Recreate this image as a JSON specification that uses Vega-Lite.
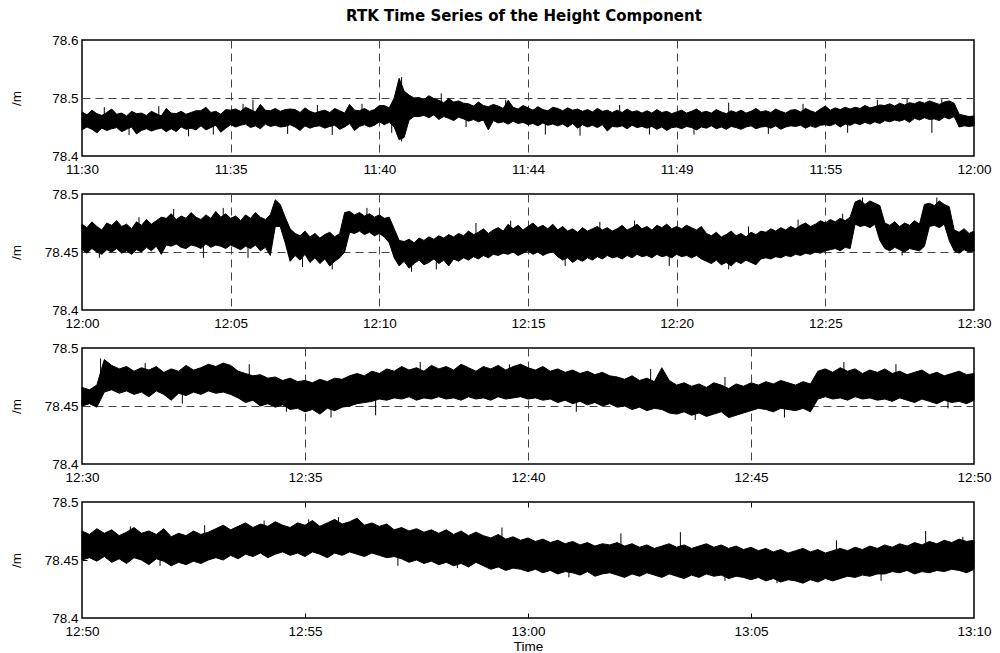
{
"$schema": "https://vega.github.io/schema/vega-lite/v6.json",
"background": "white",
"padding": {"left": 8, "top": 9, "right": 5, "bottom": 0},
"title": {"text": "RTK Time Series of the Height Component", "font": "DejaVu Sans", "fontSize": 15, "fontWeight": "bold", "color": "black", "anchor": "middle", "offset": 8, "dx": 24},
"spacing": 38,
"bounds": "flush",
"config": {
  "font": "Liberation Sans",
  "view": {"stroke": "black", "strokeWidth": 1.5},
  "axis": {"labelFont": "Liberation Sans", "labelFontSize": 13.5, "labelColor": "black", "ticks": false, "domain": false, "grid": true, "gridColor": "#444", "gridWidth": 1, "gridDash": [8, 5], "labelFlush": false, "labelOverlap": false, "titleFont": "Liberation Sans", "titleFontSize": 13.5, "titleFontWeight": "normal", "titleColor": "black"},
  "axisX": {"labelPadding": 6},
  "axisY": {"labelPadding": 4}
},
"datasets": {
"p1": [
{"t":0,"l":78.445,"h":78.476},{"t":10,"l":78.45,"h":78.471},{"t":20,"l":78.446,"h":78.479},{"t":30,"l":78.44,"h":78.473},{"t":40,"l":78.448,"h":78.47},{"t":50,"l":78.444,"h":78.475},
{"t":60,"l":78.447,"h":78.481},{"t":70,"l":78.449,"h":78.472},{"t":80,"l":78.442,"h":78.474},{"t":90,"l":78.446,"h":78.469},{"t":100,"l":78.45,"h":78.477},{"t":110,"l":78.438,"h":78.473},
{"t":120,"l":78.444,"h":78.474},{"t":130,"l":78.447,"h":78.47},{"t":140,"l":78.443,"h":78.477},{"t":150,"l":78.446,"h":78.473},{"t":160,"l":78.448,"h":78.469},{"t":170,"l":78.442,"h":78.482},
{"t":180,"l":78.447,"h":78.474},{"t":190,"l":78.442,"h":78.473},{"t":200,"l":78.45,"h":78.477},{"t":210,"l":78.446,"h":78.472},{"t":220,"l":78.448,"h":78.475},{"t":230,"l":78.445,"h":78.478},
{"t":240,"l":78.452,"h":78.478},{"t":250,"l":78.445,"h":78.484},{"t":260,"l":78.449,"h":78.475},{"t":270,"l":78.453,"h":78.477},{"t":280,"l":78.441,"h":78.472},{"t":290,"l":78.448,"h":78.48},
{"t":300,"l":78.454,"h":78.479},{"t":310,"l":78.45,"h":78.481},{"t":320,"l":78.453,"h":78.477},{"t":330,"l":78.455,"h":78.484},{"t":340,"l":78.449,"h":78.48},{"t":350,"l":78.452,"h":78.476},
{"t":360,"l":78.447,"h":78.489},{"t":370,"l":78.455,"h":78.479},{"t":380,"l":78.451,"h":78.478},{"t":390,"l":78.453,"h":78.482},{"t":400,"l":78.45,"h":78.477},{"t":410,"l":78.451,"h":78.48},
{"t":420,"l":78.454,"h":78.481},{"t":430,"l":78.45,"h":78.48},{"t":440,"l":78.444,"h":78.475},{"t":450,"l":78.452,"h":78.483},{"t":460,"l":78.448,"h":78.477},{"t":470,"l":78.451,"h":78.474},
{"t":480,"l":78.452,"h":78.477},{"t":490,"l":78.448,"h":78.479},{"t":500,"l":78.451,"h":78.475},{"t":510,"l":78.453,"h":78.482},{"t":520,"l":78.446,"h":78.478},{"t":530,"l":78.45,"h":78.474},
{"t":540,"l":78.456,"h":78.489},{"t":550,"l":78.444,"h":78.479},{"t":560,"l":78.451,"h":78.478},{"t":570,"l":78.454,"h":78.482},{"t":580,"l":78.45,"h":78.477},{"t":590,"l":78.453,"h":78.48},
{"t":600,"l":78.459,"h":78.487},{"t":610,"l":78.454,"h":78.487},{"t":620,"l":78.458,"h":78.483},{"t":630,"l":78.45,"h":78.5},{"t":640,"l":78.428,"h":78.534},{"t":650,"l":78.432,"h":78.512},
{"t":660,"l":78.462,"h":78.505},{"t":670,"l":78.468,"h":78.5},{"t":680,"l":78.468,"h":78.501},{"t":690,"l":78.47,"h":78.497},{"t":700,"l":78.466,"h":78.504},{"t":710,"l":78.471,"h":78.499},
{"t":720,"l":78.463,"h":78.496},{"t":730,"l":78.468,"h":78.492},{"t":740,"l":78.465,"h":78.499},{"t":750,"l":78.461,"h":78.493},{"t":760,"l":78.467,"h":78.495},{"t":770,"l":78.464,"h":78.491},
{"t":780,"l":78.46,"h":78.49},{"t":790,"l":78.463,"h":78.486},{"t":800,"l":78.459,"h":78.493},{"t":810,"l":78.462,"h":78.487},{"t":820,"l":78.445,"h":78.485},{"t":830,"l":78.461,"h":78.489},
{"t":840,"l":78.457,"h":78.486},{"t":850,"l":78.459,"h":78.482},{"t":860,"l":78.455,"h":78.496},{"t":870,"l":78.46,"h":78.484},{"t":880,"l":78.456,"h":78.481},{"t":890,"l":78.458,"h":78.487},
{"t":900,"l":78.454,"h":78.483},{"t":910,"l":78.456,"h":78.479},{"t":920,"l":78.452,"h":78.485},{"t":930,"l":78.457,"h":78.48},{"t":940,"l":78.453,"h":78.478},{"t":950,"l":78.455,"h":78.484},
{"t":960,"l":78.452,"h":78.482},{"t":970,"l":78.455,"h":78.478},{"t":980,"l":78.45,"h":78.483},{"t":990,"l":78.456,"h":78.479},{"t":1000,"l":78.448,"h":78.481},{"t":1010,"l":78.454,"h":78.477},
{"t":1020,"l":78.45,"h":78.48},{"t":1030,"l":78.453,"h":78.476},{"t":1040,"l":78.449,"h":78.482},{"t":1050,"l":78.454,"h":78.477},{"t":1060,"l":78.443,"h":78.479},{"t":1070,"l":78.451,"h":78.475},
{"t":1080,"l":78.45,"h":78.479},{"t":1090,"l":78.452,"h":78.475},{"t":1100,"l":78.447,"h":78.481},{"t":1110,"l":78.453,"h":78.476},{"t":1120,"l":78.449,"h":78.478},{"t":1130,"l":78.451,"h":78.474},
{"t":1140,"l":78.448,"h":78.478},{"t":1150,"l":78.451,"h":78.474},{"t":1160,"l":78.446,"h":78.48},{"t":1170,"l":78.45,"h":78.475},{"t":1180,"l":78.444,"h":78.477},{"t":1190,"l":78.449,"h":78.473},
{"t":1200,"l":78.45,"h":78.476},{"t":1210,"l":78.447,"h":78.479},{"t":1220,"l":78.451,"h":78.474},{"t":1230,"l":78.449,"h":78.477},{"t":1240,"l":78.445,"h":78.481},{"t":1250,"l":78.45,"h":78.475},
{"t":1260,"l":78.448,"h":78.477},{"t":1270,"l":78.452,"h":78.474},{"t":1280,"l":78.447,"h":78.48},{"t":1290,"l":78.45,"h":78.476},{"t":1300,"l":78.446,"h":78.473},{"t":1310,"l":78.451,"h":78.478},
{"t":1320,"l":78.449,"h":78.475},{"t":1330,"l":78.446,"h":78.479},{"t":1340,"l":78.45,"h":78.474},{"t":1350,"l":78.452,"h":78.477},{"t":1360,"l":78.447,"h":78.482},{"t":1370,"l":78.45,"h":78.476},
{"t":1380,"l":78.451,"h":78.478},{"t":1390,"l":78.448,"h":78.475},{"t":1400,"l":78.452,"h":78.481},{"t":1410,"l":78.446,"h":78.477},{"t":1420,"l":78.45,"h":78.474},{"t":1430,"l":78.452,"h":78.479},
{"t":1440,"l":78.451,"h":78.48},{"t":1450,"l":78.453,"h":78.476},{"t":1460,"l":78.448,"h":78.482},{"t":1470,"l":78.452,"h":78.478},{"t":1480,"l":78.449,"h":78.475},{"t":1490,"l":78.453,"h":78.481},
{"t":1500,"l":78.454,"h":78.486},{"t":1510,"l":78.452,"h":78.479},{"t":1520,"l":78.456,"h":78.483},{"t":1530,"l":78.45,"h":78.48},{"t":1540,"l":78.455,"h":78.484},{"t":1550,"l":78.453,"h":78.481},
{"t":1560,"l":78.457,"h":78.484},{"t":1570,"l":78.454,"h":78.482},{"t":1580,"l":78.458,"h":78.487},{"t":1590,"l":78.455,"h":78.483},{"t":1600,"l":78.459,"h":78.485},{"t":1610,"l":78.456,"h":78.488},
{"t":1620,"l":78.461,"h":78.487},{"t":1630,"l":78.459,"h":78.49},{"t":1640,"l":78.462,"h":78.486},{"t":1650,"l":78.46,"h":78.491},{"t":1660,"l":78.463,"h":78.488},{"t":1670,"l":78.458,"h":78.492},
{"t":1680,"l":78.465,"h":78.49},{"t":1690,"l":78.462,"h":78.494},{"t":1700,"l":78.466,"h":78.491},{"t":1710,"l":78.463,"h":78.495},{"t":1720,"l":78.464,"h":78.492},{"t":1730,"l":78.461,"h":78.489},
{"t":1740,"l":78.467,"h":78.493},{"t":1750,"l":78.464,"h":78.495},{"t":1760,"l":78.468,"h":78.491},{"t":1770,"l":78.45,"h":78.472},{"t":1780,"l":78.452,"h":78.47},{"t":1790,"l":78.451,"h":78.468},
{"t":1800,"l":78.452,"h":78.469}
],
"s1": [
{"t":45,"l":78.455,"h":78.484},{"t":95,"l":78.436,"h":78.46},{"t":155,"l":78.455,"h":78.486},{"t":215,"l":78.434,"h":78.46},{"t":265,"l":78.437,"h":78.46},{"t":325,"l":78.46,"h":78.49},
{"t":345,"l":78.46,"h":78.497},{"t":415,"l":78.438,"h":78.46},{"t":475,"l":78.46,"h":78.488},{"t":505,"l":78.436,"h":78.46},{"t":565,"l":78.46,"h":78.49},{"t":625,"l":78.44,"h":78.49},
{"t":645,"l":78.425,"h":78.536},{"t":725,"l":78.47,"h":78.508},{"t":775,"l":78.45,"h":78.47},{"t":855,"l":78.47,"h":78.497},{"t":935,"l":78.437,"h":78.46},{"t":1005,"l":78.435,"h":78.46},
{"t":1085,"l":78.46,"h":78.488},{"t":1145,"l":78.437,"h":78.46},{"t":1235,"l":78.437,"h":78.46},{"t":1305,"l":78.46,"h":78.492},{"t":1385,"l":78.438,"h":78.46},{"t":1455,"l":78.46,"h":78.49},
{"t":1545,"l":78.44,"h":78.465},{"t":1605,"l":78.47,"h":78.497},{"t":1665,"l":78.465,"h":78.499},{"t":1715,"l":78.44,"h":78.47},{"t":1735,"l":78.47,"h":78.498}
],
"p2": [
{"t":0,"l":78.452,"h":78.474},{"t":10,"l":78.449,"h":78.471},{"t":20,"l":78.453,"h":78.476},{"t":30,"l":78.45,"h":78.472},{"t":40,"l":78.448,"h":78.469},{"t":50,"l":78.452,"h":78.475},
{"t":60,"l":78.45,"h":78.473},{"t":70,"l":78.453,"h":78.477},{"t":80,"l":78.449,"h":78.472},{"t":90,"l":78.451,"h":78.474},{"t":100,"l":78.448,"h":78.47},{"t":110,"l":78.452,"h":78.476},
{"t":120,"l":78.45,"h":78.473},{"t":130,"l":78.454,"h":78.478},{"t":140,"l":78.451,"h":78.474},{"t":150,"l":78.455,"h":78.477},{"t":160,"l":78.448,"h":78.48},{"t":170,"l":78.456,"h":78.479},
{"t":180,"l":78.455,"h":78.483},{"t":190,"l":78.457,"h":78.478},{"t":200,"l":78.454,"h":78.481},{"t":210,"l":78.453,"h":78.479},{"t":220,"l":78.456,"h":78.484},{"t":230,"l":78.455,"h":78.48},
{"t":240,"l":78.453,"h":78.478},{"t":250,"l":78.457,"h":78.482},{"t":260,"l":78.454,"h":78.479},{"t":270,"l":78.456,"h":78.485},{"t":280,"l":78.455,"h":78.48},{"t":290,"l":78.453,"h":78.483},
{"t":300,"l":78.456,"h":78.479},{"t":310,"l":78.454,"h":78.481},{"t":320,"l":78.452,"h":78.477},{"t":330,"l":78.455,"h":78.482},{"t":340,"l":78.453,"h":78.479},{"t":350,"l":78.456,"h":78.484},
{"t":360,"l":78.451,"h":78.48},{"t":370,"l":78.454,"h":78.478},{"t":380,"l":78.447,"h":78.482},{"t":390,"l":78.472,"h":78.495},{"t":400,"l":78.472,"h":78.491},{"t":410,"l":78.458,"h":78.48},
{"t":420,"l":78.442,"h":78.47},{"t":430,"l":78.447,"h":78.466},{"t":440,"l":78.443,"h":78.464},{"t":450,"l":78.448,"h":78.468},{"t":460,"l":78.441,"h":78.463},{"t":470,"l":78.445,"h":78.466},
{"t":480,"l":78.44,"h":78.462},{"t":490,"l":78.444,"h":78.465},{"t":500,"l":78.438,"h":78.467},{"t":510,"l":78.442,"h":78.463},{"t":520,"l":78.445,"h":78.466},{"t":530,"l":78.45,"h":78.484},
{"t":540,"l":78.467,"h":78.485},{"t":550,"l":78.466,"h":78.482},{"t":560,"l":78.468,"h":78.484},{"t":570,"l":78.465,"h":78.481},{"t":580,"l":78.467,"h":78.483},{"t":590,"l":78.464,"h":78.48},
{"t":600,"l":78.466,"h":78.482},{"t":610,"l":78.463,"h":78.479},{"t":620,"l":78.458,"h":78.48},{"t":630,"l":78.445,"h":78.47},{"t":640,"l":78.438,"h":78.46},{"t":650,"l":78.442,"h":78.459},
{"t":660,"l":78.436,"h":78.461},{"t":670,"l":78.44,"h":78.458},{"t":680,"l":78.443,"h":78.462},{"t":690,"l":78.439,"h":78.46},{"t":700,"l":78.441,"h":78.463},{"t":710,"l":78.444,"h":78.461},
{"t":720,"l":78.44,"h":78.464},{"t":730,"l":78.443,"h":78.462},{"t":740,"l":78.438,"h":78.465},{"t":750,"l":78.444,"h":78.463},{"t":760,"l":78.442,"h":78.466},{"t":770,"l":78.445,"h":78.464},
{"t":780,"l":78.443,"h":78.468},{"t":790,"l":78.446,"h":78.465},{"t":800,"l":78.444,"h":78.467},{"t":810,"l":78.447,"h":78.47},{"t":820,"l":78.445,"h":78.466},{"t":830,"l":78.448,"h":78.469},
{"t":840,"l":78.447,"h":78.471},{"t":850,"l":78.449,"h":78.468},{"t":860,"l":78.448,"h":78.474},{"t":870,"l":78.45,"h":78.47},{"t":880,"l":78.447,"h":78.473},{"t":890,"l":78.449,"h":78.469},
{"t":900,"l":78.451,"h":78.472},{"t":910,"l":78.448,"h":78.475},{"t":920,"l":78.45,"h":78.471},{"t":930,"l":78.447,"h":78.473},{"t":940,"l":78.449,"h":78.47},{"t":950,"l":78.45,"h":78.474},
{"t":960,"l":78.446,"h":78.469},{"t":970,"l":78.443,"h":78.472},{"t":980,"l":78.445,"h":78.468},{"t":990,"l":78.441,"h":78.47},{"t":1000,"l":78.444,"h":78.467},{"t":1010,"l":78.442,"h":78.471},
{"t":1020,"l":78.445,"h":78.468},{"t":1030,"l":78.443,"h":78.47},{"t":1040,"l":78.446,"h":78.472},{"t":1050,"l":78.444,"h":78.469},{"t":1060,"l":78.447,"h":78.471},{"t":1070,"l":78.445,"h":78.468},
{"t":1080,"l":78.446,"h":78.47},{"t":1090,"l":78.444,"h":78.473},{"t":1100,"l":78.447,"h":78.469},{"t":1110,"l":78.445,"h":78.471},{"t":1120,"l":78.448,"h":78.474},{"t":1130,"l":78.446,"h":78.47},
{"t":1140,"l":78.447,"h":78.472},{"t":1150,"l":78.445,"h":78.469},{"t":1160,"l":78.448,"h":78.473},{"t":1170,"l":78.446,"h":78.471},{"t":1180,"l":78.447,"h":78.474},{"t":1190,"l":78.445,"h":78.47},
{"t":1200,"l":78.448,"h":78.472},{"t":1210,"l":78.446,"h":78.47},{"t":1220,"l":78.447,"h":78.473},{"t":1230,"l":78.445,"h":78.471},{"t":1240,"l":78.447,"h":78.469},{"t":1250,"l":78.444,"h":78.472},
{"t":1260,"l":78.442,"h":78.466},{"t":1270,"l":78.44,"h":78.464},{"t":1280,"l":78.443,"h":78.467},{"t":1290,"l":78.439,"h":78.463},{"t":1300,"l":78.441,"h":78.465},{"t":1310,"l":78.438,"h":78.468},
{"t":1320,"l":78.442,"h":78.464},{"t":1330,"l":78.44,"h":78.466},{"t":1340,"l":78.443,"h":78.463},{"t":1350,"l":78.441,"h":78.467},{"t":1360,"l":78.439,"h":78.465},{"t":1370,"l":78.444,"h":78.468},
{"t":1380,"l":78.445,"h":78.467},{"t":1390,"l":78.444,"h":78.47},{"t":1400,"l":78.446,"h":78.468},{"t":1410,"l":78.445,"h":78.471},{"t":1420,"l":78.447,"h":78.469},{"t":1430,"l":78.446,"h":78.472},
{"t":1440,"l":78.448,"h":78.47},{"t":1450,"l":78.447,"h":78.473},{"t":1460,"l":78.449,"h":78.475},{"t":1470,"l":78.448,"h":78.472},{"t":1480,"l":78.45,"h":78.474},{"t":1490,"l":78.449,"h":78.477},
{"t":1500,"l":78.451,"h":78.475},{"t":1510,"l":78.452,"h":78.478},{"t":1520,"l":78.453,"h":78.476},{"t":1530,"l":78.451,"h":78.479},{"t":1540,"l":78.454,"h":78.477},{"t":1550,"l":78.453,"h":78.48},
{"t":1560,"l":78.474,"h":78.493},{"t":1570,"l":78.472,"h":78.495},{"t":1580,"l":78.473,"h":78.491},{"t":1590,"l":78.471,"h":78.494},{"t":1600,"l":78.474,"h":78.492},{"t":1610,"l":78.46,"h":78.49},
{"t":1620,"l":78.453,"h":78.475},{"t":1630,"l":78.451,"h":78.473},{"t":1640,"l":78.454,"h":78.476},{"t":1650,"l":78.452,"h":78.472},{"t":1660,"l":78.45,"h":78.475},{"t":1670,"l":78.453,"h":78.473},
{"t":1680,"l":78.452,"h":78.477},{"t":1690,"l":78.451,"h":78.474},{"t":1700,"l":78.455,"h":78.491},{"t":1710,"l":78.472,"h":78.492},{"t":1720,"l":78.473,"h":78.49},{"t":1730,"l":78.471,"h":78.494},
{"t":1740,"l":78.474,"h":78.491},{"t":1750,"l":78.46,"h":78.489},{"t":1760,"l":78.451,"h":78.469},{"t":1770,"l":78.449,"h":78.467},{"t":1780,"l":78.452,"h":78.47},{"t":1790,"l":78.45,"h":78.466},
{"t":1800,"l":78.451,"h":78.468}
],
"s2": [
{"t":35,"l":78.445,"h":78.465},{"t":115,"l":78.46,"h":78.48},{"t":185,"l":78.46,"h":78.487},{"t":245,"l":78.445,"h":78.465},{"t":285,"l":78.46,"h":78.488},{"t":335,"l":78.445,"h":78.465},
{"t":445,"l":78.437,"h":78.455},{"t":505,"l":78.435,"h":78.455},{"t":575,"l":78.47,"h":78.488},{"t":665,"l":78.433,"h":78.455},{"t":715,"l":78.435,"h":78.455},{"t":795,"l":78.455,"h":78.475},
{"t":865,"l":78.455,"h":78.477},{"t":975,"l":78.438,"h":78.455},{"t":1045,"l":78.455,"h":78.476},{"t":1115,"l":78.455,"h":78.477},{"t":1185,"l":78.438,"h":78.455},{"t":1305,"l":78.435,"h":78.455},
{"t":1345,"l":78.455,"h":78.472},{"t":1445,"l":78.46,"h":78.478},{"t":1535,"l":78.46,"h":78.483},{"t":1575,"l":78.48,"h":78.497},{"t":1655,"l":78.447,"h":78.465},{"t":1725,"l":78.48,"h":78.497}
],
"p3": [
{"t":0,"l":78.45,"h":78.466},{"t":10,"l":78.452,"h":78.464},{"t":20,"l":78.449,"h":78.468},{"t":30,"l":78.462,"h":78.49},{"t":40,"l":78.464,"h":78.485},{"t":50,"l":78.461,"h":78.482},
{"t":60,"l":78.463,"h":78.484},{"t":70,"l":78.46,"h":78.48},{"t":80,"l":78.462,"h":78.483},{"t":90,"l":78.458,"h":78.481},{"t":100,"l":78.463,"h":78.484},{"t":110,"l":78.46,"h":78.479},
{"t":120,"l":78.455,"h":78.482},{"t":130,"l":78.461,"h":78.48},{"t":140,"l":78.459,"h":78.485},{"t":150,"l":78.462,"h":78.481},{"t":160,"l":78.46,"h":78.483},{"t":170,"l":78.463,"h":78.486},
{"t":180,"l":78.461,"h":78.484},{"t":190,"l":78.462,"h":78.487},{"t":200,"l":78.46,"h":78.485},{"t":210,"l":78.457,"h":78.48},{"t":220,"l":78.453,"h":78.478},{"t":230,"l":78.455,"h":78.476},
{"t":240,"l":78.45,"h":78.477},{"t":250,"l":78.452,"h":78.474},{"t":260,"l":78.449,"h":78.475},{"t":270,"l":78.451,"h":78.472},{"t":280,"l":78.447,"h":78.474},{"t":290,"l":78.448,"h":78.471},
{"t":300,"l":78.445,"h":78.472},{"t":310,"l":78.447,"h":78.47},{"t":320,"l":78.443,"h":78.473},{"t":330,"l":78.448,"h":78.471},{"t":340,"l":78.446,"h":78.474},{"t":350,"l":78.449,"h":78.473},
{"t":360,"l":78.45,"h":78.476},{"t":370,"l":78.452,"h":78.478},{"t":380,"l":78.453,"h":78.476},{"t":390,"l":78.454,"h":78.48},{"t":400,"l":78.456,"h":78.478},{"t":410,"l":78.455,"h":78.482},
{"t":420,"l":78.457,"h":78.48},{"t":430,"l":78.456,"h":78.484},{"t":440,"l":78.458,"h":78.481},{"t":450,"l":78.455,"h":78.483},{"t":460,"l":78.457,"h":78.48},{"t":470,"l":78.456,"h":78.485},
{"t":480,"l":78.458,"h":78.482},{"t":490,"l":78.456,"h":78.484},{"t":500,"l":78.457,"h":78.481},{"t":510,"l":78.455,"h":78.486},{"t":520,"l":78.458,"h":78.483},{"t":530,"l":78.456,"h":78.48},
{"t":540,"l":78.457,"h":78.484},{"t":550,"l":78.455,"h":78.482},{"t":560,"l":78.458,"h":78.485},{"t":570,"l":78.456,"h":78.481},{"t":580,"l":78.457,"h":78.484},{"t":590,"l":78.458,"h":78.486},
{"t":600,"l":78.456,"h":78.483},{"t":610,"l":78.457,"h":78.481},{"t":620,"l":78.455,"h":78.484},{"t":630,"l":78.456,"h":78.48},{"t":640,"l":78.453,"h":78.482},{"t":650,"l":78.455,"h":78.479},
{"t":660,"l":78.452,"h":78.481},{"t":670,"l":78.454,"h":78.478},{"t":680,"l":78.451,"h":78.48},{"t":690,"l":78.453,"h":78.477},{"t":700,"l":78.45,"h":78.479},{"t":710,"l":78.452,"h":78.476},
{"t":720,"l":78.449,"h":78.475},{"t":730,"l":78.45,"h":78.473},{"t":740,"l":78.447,"h":78.476},{"t":750,"l":78.449,"h":78.472},{"t":760,"l":78.446,"h":78.474},{"t":770,"l":78.448,"h":78.471},
{"t":780,"l":78.447,"h":78.483},{"t":790,"l":78.444,"h":78.472},{"t":800,"l":78.443,"h":78.468},{"t":810,"l":78.445,"h":78.47},{"t":820,"l":78.442,"h":78.467},{"t":830,"l":78.444,"h":78.469},
{"t":840,"l":78.441,"h":78.466},{"t":850,"l":78.443,"h":78.47},{"t":860,"l":78.445,"h":78.468},{"t":870,"l":78.44,"h":78.465},{"t":880,"l":78.442,"h":78.469},{"t":890,"l":78.444,"h":78.467},
{"t":900,"l":78.446,"h":78.47},{"t":910,"l":78.448,"h":78.468},{"t":920,"l":78.447,"h":78.471},{"t":930,"l":78.445,"h":78.469},{"t":940,"l":78.448,"h":78.472},{"t":950,"l":78.447,"h":78.47},
{"t":960,"l":78.446,"h":78.468},{"t":970,"l":78.448,"h":78.471},{"t":980,"l":78.445,"h":78.469},{"t":990,"l":78.456,"h":78.48},{"t":1000,"l":78.458,"h":78.482},{"t":1010,"l":78.456,"h":78.479},
{"t":1020,"l":78.457,"h":78.483},{"t":1030,"l":78.455,"h":78.48},{"t":1040,"l":78.458,"h":78.482},{"t":1050,"l":78.456,"h":78.478},{"t":1060,"l":78.457,"h":78.481},{"t":1070,"l":78.455,"h":78.479},
{"t":1080,"l":78.456,"h":78.482},{"t":1090,"l":78.454,"h":78.478},{"t":1100,"l":78.457,"h":78.48},{"t":1110,"l":78.455,"h":78.477},{"t":1120,"l":78.453,"h":78.479},{"t":1130,"l":78.456,"h":78.481},
{"t":1140,"l":78.454,"h":78.477},{"t":1150,"l":78.452,"h":78.479},{"t":1160,"l":78.455,"h":78.476},{"t":1170,"l":78.453,"h":78.478},{"t":1180,"l":78.454,"h":78.48},{"t":1190,"l":78.452,"h":78.477},
{"t":1200,"l":78.455,"h":78.478}
],
"s3": [
{"t":25,"l":78.46,"h":78.491},{"t":85,"l":78.465,"h":78.487},{"t":135,"l":78.452,"h":78.47},{"t":225,"l":78.46,"h":78.486},{"t":275,"l":78.445,"h":78.46},{"t":335,"l":78.44,"h":78.455},
{"t":395,"l":78.442,"h":78.46},{"t":455,"l":78.465,"h":78.488},{"t":575,"l":78.465,"h":78.486},{"t":665,"l":78.445,"h":78.46},{"t":765,"l":78.465,"h":78.482},{"t":825,"l":78.438,"h":78.455},
{"t":865,"l":78.455,"h":78.475},{"t":945,"l":78.44,"h":78.455},{"t":1025,"l":78.465,"h":78.488},{"t":1095,"l":78.465,"h":78.486},{"t":1165,"l":78.448,"h":78.46}
],
"p4": [
{"t":0,"l":78.45,"h":78.475},{"t":10,"l":78.452,"h":78.472},{"t":20,"l":78.449,"h":78.477},{"t":30,"l":78.453,"h":78.473},{"t":40,"l":78.448,"h":78.476},{"t":50,"l":78.451,"h":78.471},
{"t":60,"l":78.447,"h":78.474},{"t":70,"l":78.452,"h":78.478},{"t":80,"l":78.45,"h":78.473},{"t":90,"l":78.446,"h":78.475},{"t":100,"l":78.451,"h":78.472},{"t":110,"l":78.449,"h":78.477},
{"t":120,"l":78.445,"h":78.47},{"t":130,"l":78.448,"h":78.473},{"t":140,"l":78.446,"h":78.471},{"t":150,"l":78.449,"h":78.475},{"t":160,"l":78.447,"h":78.472},{"t":170,"l":78.45,"h":78.474},
{"t":180,"l":78.452,"h":78.477},{"t":190,"l":78.45,"h":78.48},{"t":200,"l":78.454,"h":78.476},{"t":210,"l":78.451,"h":78.479},{"t":220,"l":78.455,"h":78.482},{"t":230,"l":78.453,"h":78.478},
{"t":240,"l":78.456,"h":78.481},{"t":250,"l":78.452,"h":78.479},{"t":260,"l":78.455,"h":78.483},{"t":270,"l":78.457,"h":78.48},{"t":280,"l":78.454,"h":78.478},{"t":290,"l":78.456,"h":78.482},
{"t":300,"l":78.453,"h":78.48},{"t":310,"l":78.457,"h":78.484},{"t":320,"l":78.455,"h":78.479},{"t":330,"l":78.452,"h":78.482},{"t":340,"l":78.456,"h":78.485},{"t":350,"l":78.454,"h":78.481},
{"t":360,"l":78.457,"h":78.483},{"t":370,"l":78.455,"h":78.486},{"t":380,"l":78.453,"h":78.48},{"t":390,"l":78.456,"h":78.482},{"t":400,"l":78.454,"h":78.479},{"t":410,"l":78.452,"h":78.481},
{"t":420,"l":78.453,"h":78.476},{"t":430,"l":78.451,"h":78.478},{"t":440,"l":78.448,"h":78.475},{"t":450,"l":78.45,"h":78.477},{"t":460,"l":78.447,"h":78.474},{"t":470,"l":78.449,"h":78.476},
{"t":480,"l":78.446,"h":78.473},{"t":490,"l":78.448,"h":78.476},{"t":500,"l":78.445,"h":78.472},{"t":510,"l":78.447,"h":78.475},{"t":520,"l":78.444,"h":78.471},{"t":530,"l":78.448,"h":78.474},
{"t":540,"l":78.445,"h":78.471},{"t":550,"l":78.442,"h":78.469},{"t":560,"l":78.444,"h":78.472},{"t":570,"l":78.441,"h":78.468},{"t":580,"l":78.443,"h":78.47},{"t":590,"l":78.442,"h":78.467},
{"t":600,"l":78.44,"h":78.469},{"t":610,"l":78.442,"h":78.466},{"t":620,"l":78.439,"h":78.468},{"t":630,"l":78.441,"h":78.465},{"t":640,"l":78.438,"h":78.467},{"t":650,"l":78.44,"h":78.464},
{"t":660,"l":78.439,"h":78.466},{"t":670,"l":78.437,"h":78.463},{"t":680,"l":78.44,"h":78.465},{"t":690,"l":78.436,"h":78.462},{"t":700,"l":78.438,"h":78.464},{"t":710,"l":78.439,"h":78.463},
{"t":720,"l":78.437,"h":78.465},{"t":730,"l":78.435,"h":78.462},{"t":740,"l":78.438,"h":78.464},{"t":750,"l":78.436,"h":78.461},{"t":760,"l":78.439,"h":78.463},{"t":770,"l":78.437,"h":78.46},
{"t":780,"l":78.435,"h":78.462},{"t":790,"l":78.438,"h":78.464},{"t":800,"l":78.436,"h":78.461},{"t":810,"l":78.434,"h":78.463},{"t":820,"l":78.437,"h":78.46},{"t":830,"l":78.435,"h":78.462},
{"t":840,"l":78.438,"h":78.464},{"t":850,"l":78.436,"h":78.461},{"t":860,"l":78.437,"h":78.463},{"t":870,"l":78.434,"h":78.46},{"t":880,"l":78.436,"h":78.462},{"t":890,"l":78.435,"h":78.459},
{"t":900,"l":78.433,"h":78.461},{"t":910,"l":78.435,"h":78.458},{"t":920,"l":78.432,"h":78.46},{"t":930,"l":78.434,"h":78.457},{"t":940,"l":78.431,"h":78.459},{"t":950,"l":78.433,"h":78.456},
{"t":960,"l":78.432,"h":78.458},{"t":970,"l":78.43,"h":78.46},{"t":980,"l":78.433,"h":78.457},{"t":990,"l":78.431,"h":78.459},{"t":1000,"l":78.434,"h":78.456},{"t":1010,"l":78.432,"h":78.458},
{"t":1020,"l":78.434,"h":78.46},{"t":1030,"l":78.436,"h":78.458},{"t":1040,"l":78.435,"h":78.461},{"t":1050,"l":78.437,"h":78.459},{"t":1060,"l":78.436,"h":78.462},{"t":1070,"l":78.438,"h":78.46},
{"t":1080,"l":78.438,"h":78.463},{"t":1090,"l":78.44,"h":78.461},{"t":1100,"l":78.439,"h":78.464},{"t":1110,"l":78.441,"h":78.462},{"t":1120,"l":78.438,"h":78.465},{"t":1130,"l":78.44,"h":78.463},
{"t":1140,"l":78.439,"h":78.466},{"t":1150,"l":78.441,"h":78.464},{"t":1160,"l":78.44,"h":78.467},{"t":1170,"l":78.442,"h":78.465},{"t":1180,"l":78.441,"h":78.468},{"t":1190,"l":78.439,"h":78.466},
{"t":1200,"l":78.442,"h":78.467}
],
"s4": [
{"t":65,"l":78.46,"h":78.479},{"t":105,"l":78.445,"h":78.46},{"t":165,"l":78.46,"h":78.48},{"t":245,"l":78.46,"h":78.484},{"t":305,"l":78.46,"h":78.485},{"t":345,"l":78.455,"h":78.487},
{"t":425,"l":78.445,"h":78.46},{"t":505,"l":78.443,"h":78.455},{"t":565,"l":78.45,"h":78.478},{"t":655,"l":78.435,"h":78.45},{"t":725,"l":78.45,"h":78.473},{"t":805,"l":78.45,"h":78.474},
{"t":865,"l":78.432,"h":78.445},{"t":935,"l":78.43,"h":78.445},{"t":1015,"l":78.45,"h":78.467},{"t":1075,"l":78.432,"h":78.445},{"t":1135,"l":78.45,"h":78.475},{"t":1185,"l":78.45,"h":78.47}
]
},
"vconcat": [
{
  "width": 892, "height": 116,
  "encoding": {
    "x": {"field": "t", "type": "quantitative", "scale": {"domain": [0, 1800], "nice": false, "zero": false},
      "axis": {"title": null, "values": [0, 300, 600, 900, 1200, 1500, 1800],
        "labelExpr": "['11:30','11:35','11:40','11:44','11:49','11:55','12:00'][datum.value/300]",
        "gridOpacity": {"condition": {"test": "datum.value == 0 || datum.value == 1800", "value": 0}, "value": 1}}},
    "y": {"field": "l", "type": "quantitative", "scale": {"domain": [78.4, 78.6], "nice": false, "zero": false},
      "axis": {"title": "/m", "titleX": -66, "titleY": 58, "titleAngle": 270, "titleBaseline": "middle", "titleAlign": "center",
        "values": [78.4, 78.5, 78.6], "labelExpr": "'' + datum.value",
        "gridOpacity": {"condition": {"test": "datum.value == 78.4 || datum.value == 78.6", "value": 0}, "value": 1}}},
    "y2": {"field": "h"}
  },
  "layer": [
    {"data": {"name": "p1"}, "mark": {"type": "area", "color": "black", "stroke": "black", "strokeWidth": 1}},
    {"data": {"name": "s1"}, "mark": {"type": "rule", "color": "black", "strokeWidth": 1}}
  ]
},
{
  "width": 892, "height": 116,
  "encoding": {
    "x": {"field": "t", "type": "quantitative", "scale": {"domain": [0, 1800], "nice": false, "zero": false},
      "axis": {"title": null, "values": [0, 300, 600, 900, 1200, 1500, 1800],
        "labelExpr": "['12:00','12:05','12:10','12:15','12:20','12:25','12:30'][datum.value/300]",
        "gridOpacity": {"condition": {"test": "datum.value == 0 || datum.value == 1800", "value": 0}, "value": 1}}},
    "y": {"field": "l", "type": "quantitative", "scale": {"domain": [78.4, 78.5], "nice": false, "zero": false},
      "axis": {"title": "/m", "titleX": -66, "titleY": 58, "titleAngle": 270, "titleBaseline": "middle", "titleAlign": "center",
        "values": [78.4, 78.45, 78.5], "labelExpr": "'' + datum.value",
        "gridOpacity": {"condition": {"test": "datum.value == 78.4 || datum.value == 78.5", "value": 0}, "value": 1}}},
    "y2": {"field": "h"}
  },
  "layer": [
    {"data": {"name": "p2"}, "mark": {"type": "area", "color": "black", "stroke": "black", "strokeWidth": 1}},
    {"data": {"name": "s2"}, "mark": {"type": "rule", "color": "black", "strokeWidth": 1}}
  ]
},
{
  "width": 892, "height": 116,
  "encoding": {
    "x": {"field": "t", "type": "quantitative", "scale": {"domain": [0, 1200], "nice": false, "zero": false},
      "axis": {"title": null, "values": [0, 300, 600, 900, 1200],
        "labelExpr": "['12:30','12:35','12:40','12:45','12:50'][datum.value/300]",
        "gridOpacity": {"condition": {"test": "datum.value == 0 || datum.value == 1200", "value": 0}, "value": 1}}},
    "y": {"field": "l", "type": "quantitative", "scale": {"domain": [78.4, 78.5], "nice": false, "zero": false},
      "axis": {"title": "/m", "titleX": -66, "titleY": 58, "titleAngle": 270, "titleBaseline": "middle", "titleAlign": "center",
        "values": [78.4, 78.45, 78.5], "labelExpr": "'' + datum.value",
        "gridOpacity": {"condition": {"test": "datum.value == 78.4 || datum.value == 78.5", "value": 0}, "value": 1}}},
    "y2": {"field": "h"}
  },
  "layer": [
    {"data": {"name": "p3"}, "mark": {"type": "area", "color": "black", "stroke": "black", "strokeWidth": 1}},
    {"data": {"name": "s3"}, "mark": {"type": "rule", "color": "black", "strokeWidth": 1}}
  ]
},
{
  "width": 892, "height": 116,
  "encoding": {
    "x": {"field": "t", "type": "quantitative", "scale": {"domain": [0, 1200], "nice": false, "zero": false},
      "axis": {"title": "Time", "titlePadding": 2, "values": [0, 300, 600, 900, 1200],
        "labelExpr": "['12:50','12:55','13:00','13:05','13:10'][datum.value/300]",
        "gridColor": "black", "gridDash": [5, 106],
        "gridOpacity": {"condition": {"test": "datum.value == 0 || datum.value == 1200", "value": 0}, "value": 1}}},
    "y": {"field": "l", "type": "quantitative", "scale": {"domain": [78.4, 78.5], "nice": false, "zero": false},
      "axis": {"title": "/m", "titleX": -66, "titleY": 58, "titleAngle": 270, "titleBaseline": "middle", "titleAlign": "center",
        "values": [78.4, 78.45, 78.5], "labelExpr": "'' + datum.value",
        "gridColor": "black", "gridDash": [5, 882],
        "gridOpacity": {"condition": {"test": "datum.value == 78.4 || datum.value == 78.5", "value": 0}, "value": 1}}},
    "y2": {"field": "h"}
  },
  "layer": [
    {"data": {"name": "p4"}, "mark": {"type": "area", "color": "black", "stroke": "black", "strokeWidth": 1}},
    {"data": {"name": "s4"}, "mark": {"type": "rule", "color": "black", "strokeWidth": 1}}
  ]
}
]
}
